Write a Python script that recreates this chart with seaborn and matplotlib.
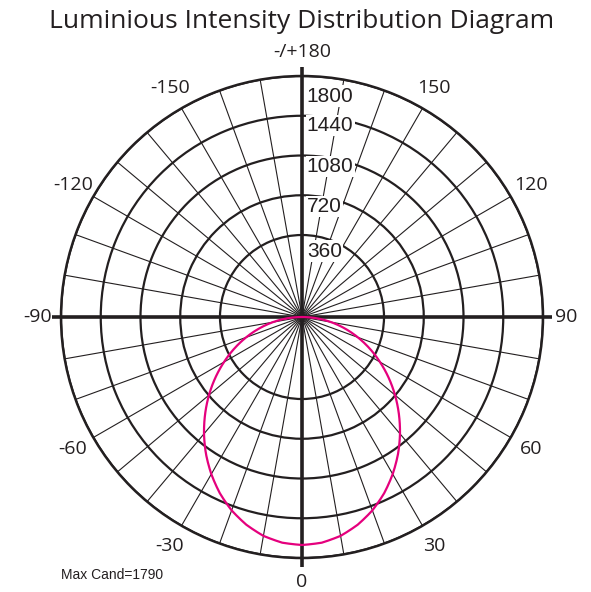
import numpy as np
import pandas as pd
import matplotlib
matplotlib.use("Agg")
import matplotlib.pyplot as plt
import seaborn as sns

# данные кривой силы света (угол, кд)
angles_deg = [-90, -85, -80, -75, -70, -65, -60, -55, -50, -45, -40, -35, -30, -25, -20, -15, -10, -5,
              0, 5, 10, 15, 20, 25, 30, 35, 40, 45, 50, 55, 60, 65, 70, 75, 80, 85, 90]
candela = [0, 65, 130, 195, 261, 328, 433, 575, 717, 858, 998, 1133, 1260, 1378, 1481, 1565, 1630, 1669,
           1682, 1669, 1630, 1565, 1481, 1378, 1260, 1133, 998, 858, 717, 575, 433, 328, 261, 195, 130, 65, 0]

ring_values = [360, 720, 1080, 1440, 1800]
ring_labels = ['360', '720', '1080', '1440', '1800']
angle_ticks = list(range(0, 360, 10))
angle_labels = {0: '0', 30: '30', 60: '60', 90: '90', 120: '120', 150: '150', 180: '-/+180',
                210: '-150', 240: '-120', 270: '-90', 300: '-60', 330: '-30'}
title = 'Luminious Intensity Distribution Diagram'
max_cand = 'Max Cand=1790'

INK = '#231f20'
MAGENTA = '#e5007d'

sns.set_style('white')
plt.rcParams['font.family'] = ['Open Sans', 'DejaVu Sans']


# нелинейная радиальная шкала: первое кольцо шире остальных
def fwd(v):
    v = np.asarray(v, dtype=float)
    return np.where(v < 360, v * 82 / 360, 82 + (v - 360) * 159 / 1440)


def inv(p):
    p = np.asarray(p, dtype=float)
    return np.where(p < 82, p * 360 / 82, 360 + (p - 82) * 1440 / 159)


fig = plt.figure(figsize=(5.91, 5.92), dpi=100)
ax = fig.add_axes([0.1032, 0.0574, 0.8156, 0.8142], projection='polar')
ax.set_theta_zero_location('S')
ax.set_theta_direction(1)
ax.set_rscale('function', functions=(fwd, inv))

# кривая
df = pd.DataFrame({'theta': np.deg2rad(angles_deg), 'cd': candela})
sns.lineplot(data=df, x='theta', y='cd', sort=False, color=MAGENTA, linewidth=1.6, ax=ax, zorder=5)
ax.lines[-1].get_path()._interpolation_steps = 12
ax.set_xlabel('')
ax.set_ylabel('')

# сетка
ax.set_xticks(np.deg2rad(angle_ticks))
ax.set_xticklabels([angle_labels.get(a, '') for a in angle_ticks], fontsize=14, color=INK)
ax.set_xlim(0, 2 * np.pi)
ax.set_ylim(0, 1800)
ax.tick_params(axis='x', pad=10, length=0)
ax.set_yticks(ring_values)
ax.set_yticklabels([])
ax.xaxis.grid(True, color=INK, linewidth=0.8)
ax.yaxis.grid(True, color=INK, linewidth=1.6)
ax.spines['polar'].set_color(INK)
ax.spines['polar'].set_linewidth(1.8)

# оси 0/90/180/270
for a in [0, 90, 180, 270]:
    ax.plot([np.deg2rad(a)] * 2, [0, 1880], color=INK, linewidth=2.6, clip_on=False, zorder=4,
            solid_capstyle='butt')

# подписи колец
offsets = [-16, -11, -11, -10, -20]
for val, lab, dy in zip(ring_values, ring_labels, offsets):
    ax.annotate(lab, xy=(np.pi, val), xytext=(3.5, dy / 1.389), textcoords='offset points',
                ha='left', va='center', fontsize=15, color=INK, family=['Liberation Sans'],
                bbox=dict(boxstyle='square,pad=0.05', fc='white', ec='none'), zorder=6)

fig.text(0.511, 0.963, title, ha='center', va='center', fontsize=19, color=INK)
fig.text(0.104, 0.029, max_cand, ha='left', va='center', fontsize=10, color=INK,
         family=['Liberation Sans'])

fig.savefig('out.png', dpi=100)
